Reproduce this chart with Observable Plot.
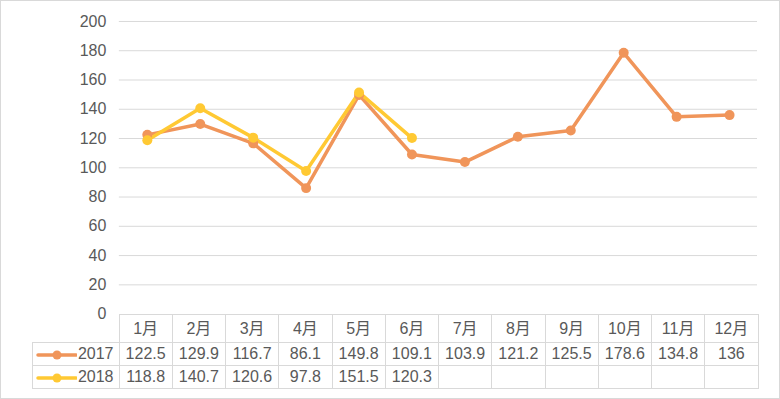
<!DOCTYPE html>
<html><head><meta charset="utf-8">
<script src="https://cdn.jsdelivr.net/npm/d3@7"></script>
<script src="https://cdn.jsdelivr.net/npm/@observablehq/plot@0.6"></script>
<style>
html,body{margin:0;padding:0;background:#fff;}
#wrap{position:relative;width:778px;height:397px;border:1px solid #d9d9d9;overflow:hidden;font-family:"Liberation Sans","Noto Sans CJK SC",sans-serif;color:#595959;}
#chart{position:absolute;left:-1px;top:-1px;}
#tbl{position:absolute;left:31px;top:313px;border-collapse:collapse;font-size:16px;color:#595959;}
#tbl td{border:1px solid #d9d9d9;padding:0;text-align:center;height:22px;line-height:20px;}
#tbl tr.head td{height:27px;}
#tbl td.blank{border:none;border-right:1px solid #d9d9d9;border-bottom:1px solid #d9d9d9;}
#tbl td.leg{text-align:right;padding-right:5px;white-space:nowrap;}
#tbl td.leg svg{vertical-align:middle;margin-right:1px;}
</style>
</head><body>
<div id="wrap"><div id="chart"></div><table id="tbl"></table></div>
<script>
const months = ["1月","2月","3月","4月","5月","6月","7月","8月","9月","10月","11月","12月"];
const series = ["2017","2018"];
const v2017 = [122.5,129.9,116.7,86.1,149.8,109.1,103.9,121.2,125.5,178.6,134.8,136];
const v2018 = [118.8,140.7,120.6,97.8,151.5,120.3];
const yTicks = [0,20,40,60,80,100,120,140,160,180,200];
const colors = ["#F0955A","#FFC933"];

const data = [];
[v2017, v2018].forEach((vals, s) => vals.forEach((v, i) => data.push({series: series[s], month: months[i], value: v})));

const plot = Plot.plot({
  width: 780, height: 399,
  marginLeft: 119, marginRight: 22, marginTop: 21, marginBottom: 85,
  style: {fontFamily: "Liberation Sans, Noto Sans CJK SC, sans-serif", fontSize: "16px", color: "#595959", background: "transparent"},
  x: {type: "point", domain: months, padding: 0.5, axis: null},
  y: {domain: [0, 200], ticks: yTicks, label: null},
  color: {domain: series, range: colors},
  marks: [
    Plot.ruleY(yTicks.filter(d => d > 0), {stroke: "#d9d9d9", strokeWidth: 1}),
    Plot.axisY(yTicks, {tickSize: 0, tickPadding: 13, label: null, fill: "#595959"}),
    Plot.line(data, {x: "month", y: "value", z: "series", stroke: "series", strokeWidth: 3.5, strokeLinejoin: "round", strokeLinecap: "round"}),
    Plot.dot(data, {x: "month", y: "value", fill: "series", r: 5})
  ]
});
document.getElementById("chart").appendChild(plot);

// Data table
const tbl = document.getElementById("tbl");
const colW = (780 - 119 - 22) / months.length;
let html = '<tr class="head"><td class="blank" style="width:86px"></td>' + months.map(m => `<td style="width:${colW - 1}px">${m}</td>`).join("") + '</tr>';
[v2017, v2018].forEach((vals, s) => {
  const c = colors[s];
  html += `<tr><td class="leg"><svg width="42" height="12"><line x1="3" y1="6" x2="41" y2="6" stroke="${c}" stroke-width="3.5" stroke-linecap="round"/><circle cx="22" cy="6" r="4.5" fill="${c}"/></svg>${series[s]}</td>` +
    months.map((m, i) => `<td>${vals[i] !== undefined ? vals[i] : ""}</td>`).join("") + '</tr>';
});
tbl.innerHTML = html;
</script>
</body></html>
